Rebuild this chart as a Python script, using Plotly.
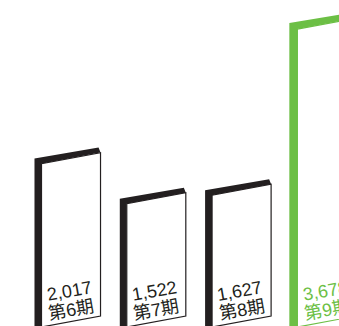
import plotly.graph_objects as go

# Sales by fiscal period
periods = ["第6期", "第7期", "第8期", "第9期"]
values = [2017, 1522, 1627, 3678]
bar_colors = ["#231f20", "#231f20", "#231f20", "#6cbf45"]

# Drawing constants (axis units)
HALF_W = 0.346      # half the width of a bar face (x units)
SKEW = 136          # how much lower the left edge sits than the right (y units)
SIDE_DX = 0.082     # depth of the left side strip
SIDE_DX_R = 0.023
SIDE_DY = 62        # depth of the top strip

fig = go.Figure()

for i, (p, v, c) in enumerate(zip(periods, values, bar_colors)):
    x0, x1 = i - HALF_W, i + HALF_W
    accent = i == len(values) - 1
    dxl = SIDE_DX * (1.15 if accent else 1.0)
    dy = SIDE_DY * (1.2 if accent else 1.0)
    # dark (or green) depth: left side and top
    sx = [x0 - dxl, x0 - dxl, x1 - SIDE_DX_R, x1, x0, x0, x0 - dxl]
    sy = [-SKEW - 300, v - SKEW + dy, v + dy, v, v - SKEW, -SKEW - 300, -SKEW - 300]
    fig.add_trace(go.Scatter(x=sx, y=sy, mode="lines", fill="toself",
                             fillcolor=c, line=dict(width=0, color=c),
                             hoverinfo="skip", showlegend=False))
    # white front face
    fx = [x0, x0, x1, x1, x0]
    fy = [-SKEW, v - SKEW, v, 0, -SKEW]
    fig.add_trace(go.Scatter(x=fx, y=fy, mode="lines", fill="toself",
                             fillcolor="white", line=dict(width=1.2, color=c),
                             hoverinfo="skip", showlegend=False))
    font = dict(family="Liberation Sans, Arial, Noto Sans CJK JP", size=18, color=c)
    fig.add_annotation(x=i - 0.02, y=305, text=f"{v:,}", showarrow=False,
                       textangle=-10, font=font, xanchor="center", yanchor="middle")
    fig.add_annotation(x=i, y=75, text=p, showarrow=False,
                       textangle=-10, font=font, xanchor="center", yanchor="middle")

fig.update_layout(
    width=339, height=326,
    margin=dict(l=0, r=0, t=0, b=0),
    paper_bgcolor="white", plot_bgcolor="white",
    xaxis=dict(range=[-0.8324, 3.1419], visible=False, fixedrange=True),
    yaxis=dict(range=[-123.5, 3901], visible=False, fixedrange=True),
)

fig.write_html("out.html")
